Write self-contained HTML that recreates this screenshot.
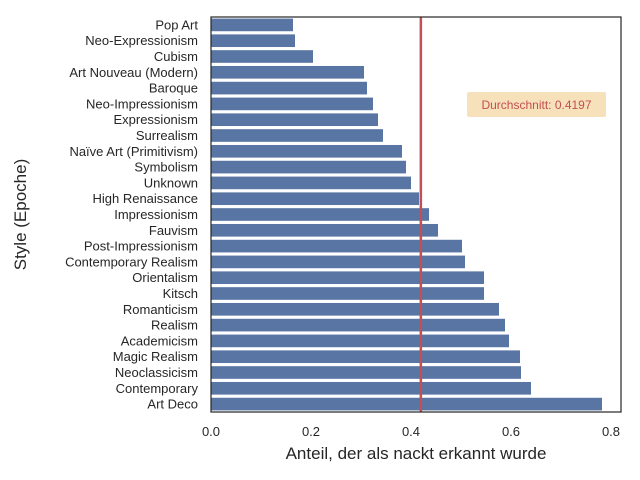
<!DOCTYPE html>
<html><head><meta charset="utf-8"><style>
body{margin:0;background:#fff;}
svg{display:block;font-family:"Liberation Sans","DejaVu Sans",sans-serif;}
</style></head><body>
<svg id="chart" width="640" height="480"></svg>
<script>
const categories=["Pop Art","Neo-Expressionism","Cubism","Art Nouveau (Modern)","Baroque","Neo-Impressionism","Expressionism","Surrealism","Naïve Art (Primitivism)","Symbolism","Unknown","High Renaissance","Impressionism","Fauvism","Post-Impressionism","Contemporary Realism","Orientalism","Kitsch","Romanticism","Realism","Academicism","Magic Realism","Neoclassicism","Contemporary","Art Deco"];
const values=[0.164,0.168,0.204,0.306,0.312,0.324,0.334,0.344,0.382,0.390,0.400,0.416,0.436,0.454,0.502,0.508,0.546,0.546,0.576,0.588,0.596,0.618,0.620,0.640,0.782];
const meanValue=0.4197;
const xTicks=[0,0.2,0.4,0.6,0.8];
const NS="http://www.w3.org/2000/svg";
const svg=document.getElementById('chart');
const L=211,R=621,T=17,B=412;
const xS=v=>L+v*500;
const band=(B-T)/categories.length;
const yS=i=>T+band*i;
function mk(t,a,p){const e=document.createElementNS(NS,t);for(const k in a)e.setAttribute(k,a[k]);(p||svg).appendChild(e);return e;}
categories.forEach((c,i)=>{
  const r=mk('rect',{x:L,y:yS(i)+band*0.1,width:xS(values[i])-L,height:band*0.8,fill:'#5975a4'});
  
  
  const t=mk('text',{x:L-13,y:yS(i)+band/2+4.5,'text-anchor':'end','font-size':'13',fill:'#262626'});
  t.textContent=c;
  
  
});
xTicks.forEach(v=>{
  const t=mk('text',{x:xS(v),y:B+24,'text-anchor':'middle','font-size':'13',fill:'#262626'});
  t.textContent=v.toFixed(1);
  
  
});
const ml=mk('line',{x1:xS(meanValue),x2:xS(meanValue),y1:T,y2:B,stroke:'#c44e52','stroke-width':2.5});


const fr=mk('rect',{x:L,y:T,width:R-L,height:B-T,fill:'none',stroke:'#262626','stroke-width':1.2});


const lb=mk('rect',{x:467,y:92,width:139,height:25,fill:'#f5deb3',opacity:0.9,rx:2});


const lt=mk('text',{x:536.5,y:109,'text-anchor':'middle','font-size':'12',fill:'#c44e52'});
lt.textContent='Durchschnitt: '+meanValue;


const xt=mk('text',{x:(L+R)/2,y:459,'text-anchor':'middle','font-size':'17',fill:'#262626'});
xt.textContent='Anteil, der als nackt erkannt wurde';


const yt=mk('text',{x:26,y:(T+B)/2,'text-anchor':'middle','font-size':'17',fill:'#262626',transform:'rotate(-90 26 '+((T+B)/2)+')'});
yt.textContent='Style (Epoche)';


</script>
</body></html>
